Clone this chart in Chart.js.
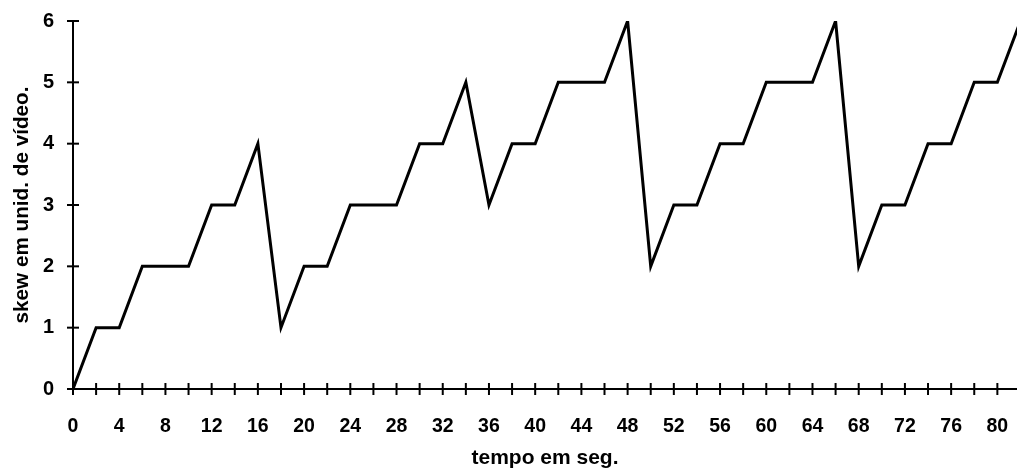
<!DOCTYPE html>
<html>
<head>
<meta charset="utf-8">
<script src="https://cdn.jsdelivr.net/npm/chart.js@4.4.1/dist/chart.umd.min.js"></script>
<style>
  html, body { margin: 0; padding: 0; background: #fff; }
  #wrap { width: 1017px; height: 476px; position: relative; }
</style>
</head>
<body>
<div id="wrap"><canvas id="c" width="1017" height="476"></canvas></div>
<script>
const times = [0, 2, 4, 6, 8, 10, 12, 14, 16, 18, 20, 22, 24, 26, 28, 30, 32, 34, 36, 38, 40,
               42, 44, 46, 48, 50, 52, 54, 56, 58, 60, 62, 64, 66, 68, 70, 72, 74, 76, 78, 80, 82];
const skew  = [0, 1, 1, 2, 2, 2, 3, 3, 4, 1, 2, 2, 3, 3, 3, 4, 4, 5, 3, 4, 4,
               5, 5, 5, 6, 2, 3, 3, 4, 4, 5, 5, 5, 6, 2, 3, 3, 4, 4, 5, 5, 6];
const xTitle = 'tempo em seg.';
const yTitle = 'skew em unid. de vídeo.';

const points = times.map((t, i) => ({ x: t, y: skew[i] }));

const crossTicks = {
  id: 'crossTicks',
  afterDraw(chart) {
    const ctx = chart.ctx;
    const xs = chart.scales.x, ys = chart.scales.y;
    ctx.save();
    ctx.strokeStyle = '#000';
    ctx.lineWidth = 2;
    const x0 = xs.left;
    ys.ticks.forEach(t => {
      const p = ys.getPixelForValue(t.value);
      ctx.beginPath(); ctx.moveTo(x0 - 6, p); ctx.lineTo(x0 + 6, p); ctx.stroke();
    });
    const y0 = ys.bottom;
    xs.ticks.forEach(t => {
      const p = xs.getPixelForValue(t.value);
      ctx.beginPath(); ctx.moveTo(p, y0 - 6); ctx.lineTo(p, y0 + 6); ctx.stroke();
    });
    ctx.restore();
  }
};

Chart.defaults.font.family = "'Liberation Sans', Arial, sans-serif";
Chart.defaults.font.weight = 'bold';
Chart.defaults.color = '#000';

new Chart(document.getElementById('c'), {
  type: 'line',
  data: {
    datasets: [{
      data: points,
      borderColor: '#000',
      borderWidth: 3,
      pointRadius: 0,
      tension: 0,
      fill: false,
      borderJoinStyle: 'miter'
    }]
  },
  options: {
    responsive: false,
    animation: false,
    devicePixelRatio: 1,
    layout: { padding: { top: 21, right: 0, bottom: 1, left: 6 } },
    plugins: { legend: { display: false }, tooltip: { enabled: false } },
    scales: {
      x: {
        type: 'linear',
        min: 0,
        max: 81.7,
        grid: { display: false, drawTicks: false },
        border: { display: true, color: '#000', width: 2 },
        ticks: {
          stepSize: 2,
          includeBounds: false,
          autoSkip: false,
          maxRotation: 0,
          padding: 26,
          font: { size: 19.5, weight: 'bold' },
          callback: v => (v % 4 === 0 ? String(v) : '')
        },
        title: { display: true, text: xTitle, font: { size: 21, weight: 'bold' }, padding: { top: 4, bottom: 4 } },
        afterFit: s => { s.height = 86; s.paddingLeft = 0; s.paddingRight = 0; }
      },
      y: {
        min: 0,
        max: 6,
        grid: { display: false, drawTicks: false },
        border: { display: true, color: '#000', width: 2 },
        ticks: {
          stepSize: 1,
          padding: 19,
          font: { size: 20, weight: 'bold' }
        },
        title: { display: true, text: yTitle, font: { size: 20.7, weight: 'bold' }, padding: { top: 4, bottom: 4 } },
        afterFit: s => { s.width = 67; s.paddingTop = 0; s.paddingBottom = 0; }
      }
    }
  },
  plugins: [crossTicks]
});
</script>
</body>
</html>
